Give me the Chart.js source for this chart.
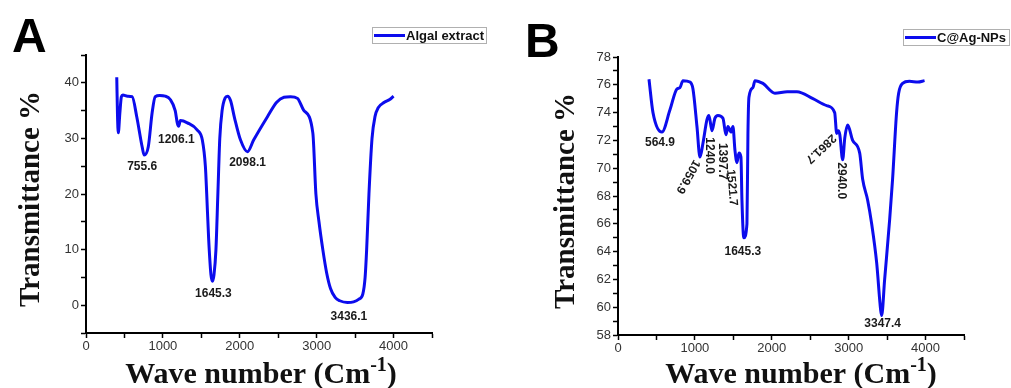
<!DOCTYPE html>
<html>
<head>
<meta charset="utf-8">
<script src="https://cdn.jsdelivr.net/npm/chart.js@4"></script>
<style>
  body { margin: 0; background: #fff; }
  #wrap { position: relative; width: 1011px; height: 388px; }
  canvas { position: absolute; top: 0; }
  #chartA { left: 0; }
  #chartB { left: 505px; }
</style>
</head>
<body>
<div id="wrap">
  <canvas id="chartA" width="505" height="388"></canvas>
  <canvas id="chartB" width="506" height="388"></canvas>
</div>
<script>
// Panel A: Algal extract
let algalWave = [400, 410, 420, 440, 460, 480, 540, 600, 660, 730, 757, 810, 860, 900, 960, 1030, 1096, 1160, 1190, 1205, 1227, 1318, 1448, 1513, 1553, 1570, 1595, 1625, 1645, 1665, 1690, 1715, 1740, 1770, 1810, 1840, 1880, 1930, 2010, 2100, 2180, 2360, 2480, 2575, 2660, 2750, 2830, 2950, 2990, 3030, 3080, 3130, 3180, 3240, 3300, 3400, 3480, 3550, 3600, 3630, 3650, 3680, 3720, 3760, 3800, 3880, 3950, 4000];
let algalT =    [41, 34, 31, 34.5, 37.5, 37.8, 37.6, 37.5, 33.9, 28.5, 27, 28.5, 34.6, 37.5, 37.7, 37.6, 37, 35, 32.6, 32.2, 33.2, 32.8, 31.5, 29.7, 24.9, 20, 12, 5.5, 4.3, 5.5, 10, 20, 30, 35, 37.3, 37.6, 36.8, 33.8, 29.7, 27.6, 29.7, 33.9, 36.5, 37.4, 37.5, 37.2, 35.1, 31, 20, 15, 10, 5.8, 3, 1.4, 0.8, 0.5, 0.6, 1.1, 2, 5, 10, 20, 30, 34, 35.5, 36.5, 37, 37.6];
let algalPeaks = [
  ['755.6', 731, 24.9, 0],
  ['1206.1', 1175, 29.7, 0],
  ['2098.1', 2101, 25.6, 0],
  ['1645.3', 1657, 2.0, 0],
  ['3436.1', 3419, -2.0, 0]
];

// Panel B: C@Ag-NPs
let cagWave = [403, 455, 571, 676, 766, 806, 845, 936, 975, 1027, 1066, 1105, 1157, 1183, 1222, 1261, 1300, 1365, 1404, 1430, 1469, 1495, 1521, 1547, 1573, 1599, 1612, 1636, 1677, 1690, 1703, 1755, 1781, 1885, 2041, 2200, 2327, 2535, 2714, 2818, 2844, 2865, 2885, 2922, 2950, 2987, 3052, 3143, 3182, 3247, 3299, 3364, 3416, 3429, 3468, 3533, 3571, 3623, 3650, 3701, 3790, 3900, 3987];
let cagT =    [76.4, 74, 72.6, 74.2, 75.7, 75.8, 76.3, 76.2, 75.7, 73, 70.8, 71.8, 73.5, 73.8, 72.7, 73.6, 73.8, 73.6, 72.4, 73, 72.6, 73, 71.3, 70.4, 71.1, 70.8, 67.7, 65, 66, 72.5, 75.1, 75.8, 76.3, 76.1, 75.4, 75.5, 75.5, 75, 74.5, 74, 72.5, 72.7, 72.4, 70.6, 72.2, 73.1, 72, 71.1, 69.2, 67.7, 66, 63.2, 59.8, 59.4, 62, 66.3, 69.2, 74, 75.4, 76.1, 76.25, 76.2, 76.3];
let cagPeaks = [
  ['564.9', 546, 71.8, 0],
  ['1059.9', 909, 69.4, 119],
  ['1240.0', 1182, 70.9, 90],
  ['1397.7', 1351, 70.5, 90],
  ['1521.7', 1481, 68.6, 85],
  ['2861.7', 2637, 71.4, 137],
  ['2940.0', 2910, 69.1, 90],
  ['1645.3', 1624, 64.0, 0],
  ['3347.4', 3442, 58.8, 0]
];

const lineColor = '#0c0ced';

let decorPlugin = {
  id: 'decor',
  afterDraw(chart, args, opts) {
    const c = chart.ctx;
    const xs = chart.scales.x, ys = chart.scales.y;
    const area = chart.chartArea;
    c.save();
    // panel letter
    c.fillStyle = '#000';
    c.font = 'bold 48px Arial, "Liberation Sans"';
    c.textBaseline = 'alphabetic';
    c.textAlign = 'left';
    c.fillText(opts.letter, opts.letterX, opts.letterY);

    // legend
    c.strokeStyle = '#b0b0b0';
    c.lineWidth = 1;
    c.strokeRect(opts.legX + 0.5, opts.legY + 0.5, opts.legW, 16);
    c.strokeStyle = lineColor;
    c.lineWidth = 3;
    c.beginPath();
    c.moveTo(opts.legX + 2, opts.legY + 8.5);
    c.lineTo(opts.legX + 33, opts.legY + 8.5);
    c.stroke();
    c.fillStyle = '#111';
    c.font = 'bold 13px Arial, "Liberation Sans"';
    c.textBaseline = 'middle';
    c.fillText(opts.legText, opts.legX + 34, opts.legY + 9);

    // y title
    c.save();
    c.translate(opts.yTitleX, (area.top + area.bottom) / 2 + 5);
    c.rotate(-Math.PI / 2);
    c.textAlign = 'center';
    c.textBaseline = 'middle';
    c.font = 'bold 29px "Liberation Serif", "Times New Roman", serif';
    c.fillText('Transmittance %', 0, 0);
    c.restore();

    // x title with superscript
    c.font = 'bold 30px "Liberation Serif", "Times New Roman", serif';
    const main = 'Wave number (Cm';
    const sup = '-1';
    const close = ')';
    const wMain = c.measureText(main).width;
    c.font = 'bold 20px "Liberation Serif", serif';
    const wSup = c.measureText(sup).width;
    c.font = 'bold 30px "Liberation Serif", serif';
    const wClose = c.measureText(close).width;
    const total = wMain + wSup + wClose;
    let tx = (area.left + area.right) / 2 - total / 2 + opts.xTitleShift;
    const ty = 383;
    c.textAlign = 'left';
    c.textBaseline = 'alphabetic';
    c.fillText(main, tx, ty);
    c.font = 'bold 20px "Liberation Serif", serif';
    c.fillText(sup, tx + wMain, ty - 12);
    c.font = 'bold 30px "Liberation Serif", serif';
    c.fillText(close, tx + wMain + wSup, ty);

    // peak labels
    c.font = 'bold 12px Arial, "Liberation Sans"';
    c.fillStyle = '#1a1a1a';
    c.textAlign = 'center';
    c.textBaseline = 'middle';
    opts.peaks.forEach(p => {
      c.save();
      c.translate(xs.getPixelForValue(p[1]), ys.getPixelForValue(p[2]));
      c.rotate(p[3] * Math.PI / 180);
      c.fillText(p[0], 0, 0);
      c.restore();
    });
    c.restore();
  }
};

let makeChart = function (canvasId, wave, trans, yMin, yMax, yStep, yLabelStep, pad, yWidth, decor) {
  const ctx = document.getElementById(canvasId).getContext('2d');
  return new Chart(ctx, {
    type: 'line',
    data: {
      datasets: [{
        data: wave.map((w, i) => ({ x: w, y: trans[i] })),
        borderColor: lineColor,
        borderWidth: 3,
        pointRadius: 0,
        tension: 0.4,
        cubicInterpolationMode: 'monotone'
      }]
    },
    options: {
      responsive: false,
      devicePixelRatio: 1,
      animation: false,
      layout: { padding: pad },
      plugins: {
        legend: { display: false },
        tooltip: { enabled: false },
        decor: decor
      },
      scales: {
        x: {
          type: 'linear',
          min: 0,
          max: 4500,
          afterFit: s => { s.height = 22; },
          border: { color: '#000', width: 2 },
          grid: { drawOnChartArea: false, tickLength: 5, tickColor: '#000', tickWidth: 1.5 },
          ticks: {
            stepSize: 500,
            autoSkip: false,
            maxRotation: 0,
            padding: 1,
            color: '#333',
            font: { family: 'Arial, "Liberation Sans"', size: 13 },
            callback: v => (v % 1000 === 0 ? v : '')
          }
        },
        y: {
          min: yMin,
          max: yMax,
          afterFit: s => { s.width = yWidth; },
          border: { color: '#000', width: 2 },
          grid: { drawOnChartArea: false, tickLength: 5, tickColor: '#000', tickWidth: 1.5 },
          ticks: {
            stepSize: yStep,
            autoSkip: false,
            padding: 2,
            color: '#333',
            font: { family: 'Arial, "Liberation Sans"', size: 13 },
            callback: v => (v % yLabelStep === 0 ? v : '')
          }
        }
      }
    },
    plugins: [decorPlugin]
  });
};

let charts = [
  makeChart('chartA', algalWave, algalT, -5, 45, 5, 10,
    { left: 50, top: 55, right: 73, bottom: 33 }, 36,
    { letter: 'A', letterX: 12, letterY: 52, legX: 372, legY: 27, legW: 114, legText: 'Algal extract',
      yTitleX: 32, xTitleShift: 2, peaks: algalPeaks }),
  makeChart('chartB', cagWave, cagT, 58, 78, 1, 2,
    { left: 77, top: 57, right: 47, bottom: 31 }, 36,
    { letter: 'B', letterX: 20, letterY: 57, legX: 398, legY: 29, legW: 106, legText: 'C@Ag-NPs',
      yTitleX: 62, xTitleShift: 10, peaks: cagPeaks })
];
</script>
</body>
</html>
